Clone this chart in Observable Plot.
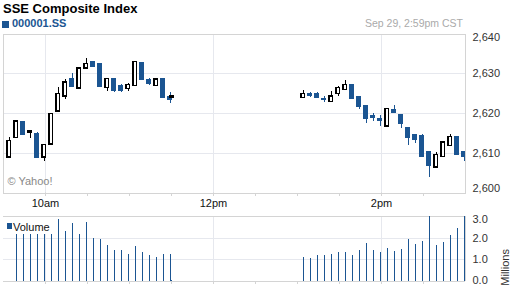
<!DOCTYPE html>
<html><head><meta charset="utf-8">
<script src="https://cdn.jsdelivr.net/npm/d3@7"></script>
<script src="https://cdn.jsdelivr.net/npm/@observablehq/plot@0.6"></script>
<style>
body{margin:0;background:#fff;font-family:"Liberation Sans",Arial,sans-serif;}
#wrap{position:relative;width:512px;height:288px;overflow:hidden;background:#fff;}
.abs{position:absolute;white-space:nowrap;line-height:1;}
svg{position:absolute;left:0;}
</style></head><body><div id="wrap">
<div class="abs" style="left:3px;top:1.5px;font-size:13px;font-weight:bold;color:#000">SSE Composite Index</div>
<div class="abs" style="left:2px;top:21px;width:7px;height:7px;background:#1b5592"></div>
<div class="abs" style="left:12px;top:18px;font-size:11px;font-weight:bold;color:#1b5592">000001.SS</div>
<div class="abs" style="right:49px;top:18px;font-size:10.5px;color:#aaa">Sep 29, 2:59pm CST</div>
</div>
<script>
// ---- data ----
const times = ["09:34","09:39","09:44","09:49","09:54","09:59","10:04","10:09","10:14","10:19","10:24","10:29",
  "10:34","10:39","10:44","10:49","10:54","10:59","11:04","11:09","11:14","11:19","11:24","11:29","11:30",
  "13:04","13:09","13:14","13:19","13:24","13:29","13:34","13:39","13:44","13:49","13:54","13:59",
  "14:04","14:09","14:14","14:19","14:24","14:29","14:34","14:39","14:44","14:49","14:54","14:59"];
const opens = [2609.05,2613.9,2617.8,2615.4,2614.75,2609.05,2612.3,2620.6,2624.4,2628.5,2626.4,2631.5,
  2632.9,2632.3,2626.6,2628.6,2626.8,2626.3,2627.0,2632.7,2628.2,2627.1,2628.6,2624.0,2624.1,
  2624.0,2624.7,2624.8,2623.6,2623.0,2625.0,2626.1,2627.1,2624.0,2621.8,2619.3,2618.6,
  2616.9,2620.8,2619.5,2616.2,2614.5,2614.2,2610.2,2606.5,2609.2,2611.9,2614.0,2610.2];
const highs = [2613.9,2618.3,2617.8,2615.4,2615.3,2612.2,2619.7,2626.6,2628.6,2630.1,2631.5,2633.8,
  2632.9,2632.3,2628.8,2628.6,2627.3,2627.5,2632.8,2632.9,2628.9,2628.8,2628.6,2625.2,2624.1,
  2625.8,2625.2,2625.2,2624.2,2625.6,2626.8,2628.3,2627.1,2624.0,2621.8,2620.1,2619.5,
  2621.0,2622.0,2619.5,2616.4,2614.5,2614.75,2610.2,2610.2,2612.6,2614.75,2614.0,2610.5];
const lows = [2609.0,2613.9,2614.8,2613.8,2608.8,2608.0,2612.1,2620.6,2623.5,2626.5,2626.1,2631.5,
  2631.6,2626.9,2625.6,2625.2,2625.3,2625.6,2627.0,2628.6,2627.1,2626.8,2624.1,2622.5,2624.1,
  2624.0,2624.0,2623.7,2622.7,2623.0,2624.4,2625.9,2623.5,2620.9,2617.4,2618.1,2616.8,
  2616.9,2619.9,2616.3,2611.9,2612.4,2609.3,2604.0,2606.5,2609.2,2611.9,2609.4,2608.0];
const closes = [2613.0,2617.8,2614.8,2615.4,2609.0,2611.9,2619.7,2624.8,2627.7,2626.9,2631.2,2632.3,
  2631.7,2626.9,2628.6,2625.9,2625.9,2627.0,2632.8,2628.6,2627.6,2628.4,2624.1,2623.4,2624.1,
  2624.8,2624.5,2624.1,2623.4,2624.2,2626.3,2627.1,2623.8,2621.7,2618.8,2619.0,2618.3,
  2621.0,2620.2,2617.4,2614.0,2613.4,2609.3,2606.8,2609.4,2612.6,2613.9,2609.7,2609.2];
// volume in millions (first bar absent; several hidden behind the legend are estimates)
const volumes = [null,2.6,2.5,2.4,2.7,2.5,2.6,2.86,2.30,2.67,2.17,2.72,
  1.98,1.94,1.66,1.43,1.43,1.24,1.61,1.34,1.20,1.11,1.24,1.24,0.05,
  1.09,1.05,1.20,1.20,1.24,1.34,1.34,1.20,1.43,1.75,1.43,1.34,
  1.52,1.38,1.47,1.94,1.70,1.84,3.05,1.66,1.80,2.12,2.44,3.05];

const sessionStart = "09:30";
const sessionEnd = "15:00";
const labelTimes = ["10:00","12:00","14:00"];
const labelTexts = ["10am","12pm","2pm"];
const minorTimes = ["10:00","10:30","11:00","11:30","12:00","12:30","13:00","13:30","14:00","14:30"];
const priceTicks = [2600,2610,2620,2630,2640];
const volTicks = [0,1,2,3];

// ---- build ----
const blue = "#1b5592";
const gridC = "#e6e8ee";
const borderC = "#d4d4d4";
const toMin = s => { const [h,m] = s.split(":").map(Number); return h*60 + m; };
const x0 = toMin(sessionStart), x1 = toMin(sessionEnd);
const rows = times.map((t,i) => ({t: toMin(t), open: opens[i], high: highs[i], low: lows[i], close: closes[i], vol: volumes[i]}));
const upRows = rows.filter(d => d.close >= d.open);
const downRows = rows.filter(d => d.close < d.open);
const majors = labelTimes.map(toMin);
const minors = minorTimes.map(toMin);
const labelOf = new Map(majors.map((m,i)=>[m,labelTexts[i]]));
const chartStyle = {fontFamily:"'Liberation Sans',Arial,sans-serif", fontSize:"11px", color:"#333", background:"transparent", overflow:"visible"};

const priceChart = Plot.plot({
  width: 512, height: 180,
  marginLeft: 3, marginRight: 47, marginTop: 3.5, marginBottom: 17.5,
  style: chartStyle,
  x: {domain: [x0, x1]},
  y: {domain: [priceTicks[0], priceTicks[priceTicks.length-1]]},
  marks: [
    Plot.gridY(priceTicks.slice(1,-1), {stroke: gridC, strokeOpacity: 1, shapeRendering:"crispEdges"}),
    Plot.gridX(majors, {stroke: gridC, strokeOpacity: 1, shapeRendering:"crispEdges"}),
    Plot.frame({stroke: borderC, shapeRendering:"crispEdges"}),
    Plot.axisX(minors, {tickSize: 3, tickFormat: () => "", stroke: borderC, label: null, shapeRendering:"crispEdges"}),
    Plot.axisX(majors, {tickSize: 3, tickPadding: 3, tickFormat: d => labelOf.get(d), stroke: borderC, fill:"#111", label: null}),
    Plot.axisY(priceTicks.slice(1,-1), {anchor:"right", tickSize: 0, tickPadding: 7, tickFormat: d3.format(","), label: null, fill:"#333"}),
    Plot.axisY([priceTicks[priceTicks.length-1]], {anchor:"right", tickSize: 0, tickPadding: 7, tickFormat: d3.format(","), label: null, dy: 3, fill:"#333"}),
    Plot.axisY([priceTicks[0]], {anchor:"right", tickSize: 0, tickPadding: 7, tickFormat: d3.format(","), label: null, dy: -5, fill:"#333"}),
    Plot.ruleX(downRows, {x:"t", y1:"low", y2:"high", stroke: blue, strokeWidth: 1, clip: true, shapeRendering:"crispEdges"}),
    Plot.ruleX(upRows, {x:"t", y1:"low", y2:"high", stroke: "#000", strokeWidth: 1, clip: true, shapeRendering:"crispEdges"}),
    Plot.rect(downRows, {x1:"t", x2:"t", y1:"open", y2:"close", insetLeft:-2, insetRight:-2, insetTop:-0.5, insetBottom:-0.5,
      fill: blue, stroke: blue, strokeWidth: 1, clip: true, shapeRendering:"crispEdges"}),
    Plot.rect(upRows, {x1:"t", x2:"t", y1:"open", y2:"close", insetLeft:-1.75, insetRight:-1.75, insetTop:-0.5, insetBottom:-0.5,
      fill: "#fff", stroke: "#000", strokeWidth: 1.5, clip: true, shapeRendering:"crispEdges"}),
    Plot.text(["© Yahoo!"], {frameAnchor:"bottom-left", dx: 4, dy: -8, fill:"#888", fontSize: 11, textAnchor:"start"})
  ]
});
priceChart.style.top = "30px";

const volChart = Plot.plot({
  width: 512, height: 78,
  marginLeft: 3, marginRight: 47, marginTop: 6, marginBottom: 7,
  style: chartStyle,
  x: {domain: [x0, x1]},
  y: {domain: [volTicks[0], volTicks[volTicks.length-1]]},
  marks: [
    Plot.gridY(volTicks.slice(1,-1), {stroke: gridC, strokeOpacity: 1, shapeRendering:"crispEdges"}),
    Plot.gridX(majors, {stroke: gridC, strokeOpacity: 1, shapeRendering:"crispEdges"}),
    Plot.ruleY([volTicks[0], volTicks[volTicks.length-1]], {stroke: borderC, shapeRendering:"crispEdges"}),
    Plot.ruleX([x1], {stroke: borderC, shapeRendering:"crispEdges"}),
    Plot.axisX(minors, {tickSize: 3, tickFormat: () => "", stroke: borderC, label: null, shapeRendering:"crispEdges"}),
    Plot.ruleX(rows.filter(d => d.vol != null), {x:"t", y1: 0, y2:"vol", stroke: blue, strokeWidth: 1, clip: true, shapeRendering:"crispEdges"}),
    Plot.axisY(volTicks.slice(1,-1), {anchor:"right", tickSize: 0, tickPadding: 7, tickFormat: d3.format(".1f"), label: null, fill:"#333"}),
    Plot.axisY([volTicks[volTicks.length-1]], {anchor:"right", tickSize: 0, tickPadding: 7, tickFormat: d3.format(".1f"), label: null, dy: 3, fill:"#333"}),
    Plot.axisY([volTicks[0]], {anchor:"right", tickSize: 0, tickPadding: 7, tickFormat: d3.format(".1f"), label: null, dy: -1.5, fill:"#333"}),
    Plot.text(["Millions"], {frameAnchor:"right", dx: 40, rotate: -90, fill:"#333", fontSize: 11})
  ]
});
volChart.style.top = "210px";

const wrap = document.getElementById("wrap");
wrap.appendChild(priceChart);
wrap.appendChild(volChart);

// legend box (covers bars behind it)
const lg = document.createElement("div");
lg.className = "abs";
lg.style.cssText = "left:3px;top:217px;width:50px;height:17px;background:#fff;";
lg.innerHTML = '<div class="abs" style="left:4px;top:6px;width:5px;height:6px;background:'+blue+'"></div>' +
  '<div class="abs" style="left:10px;top:5px;font-size:11px;color:#111">Volume</div>';
wrap.appendChild(lg);
</script>
</body></html>
